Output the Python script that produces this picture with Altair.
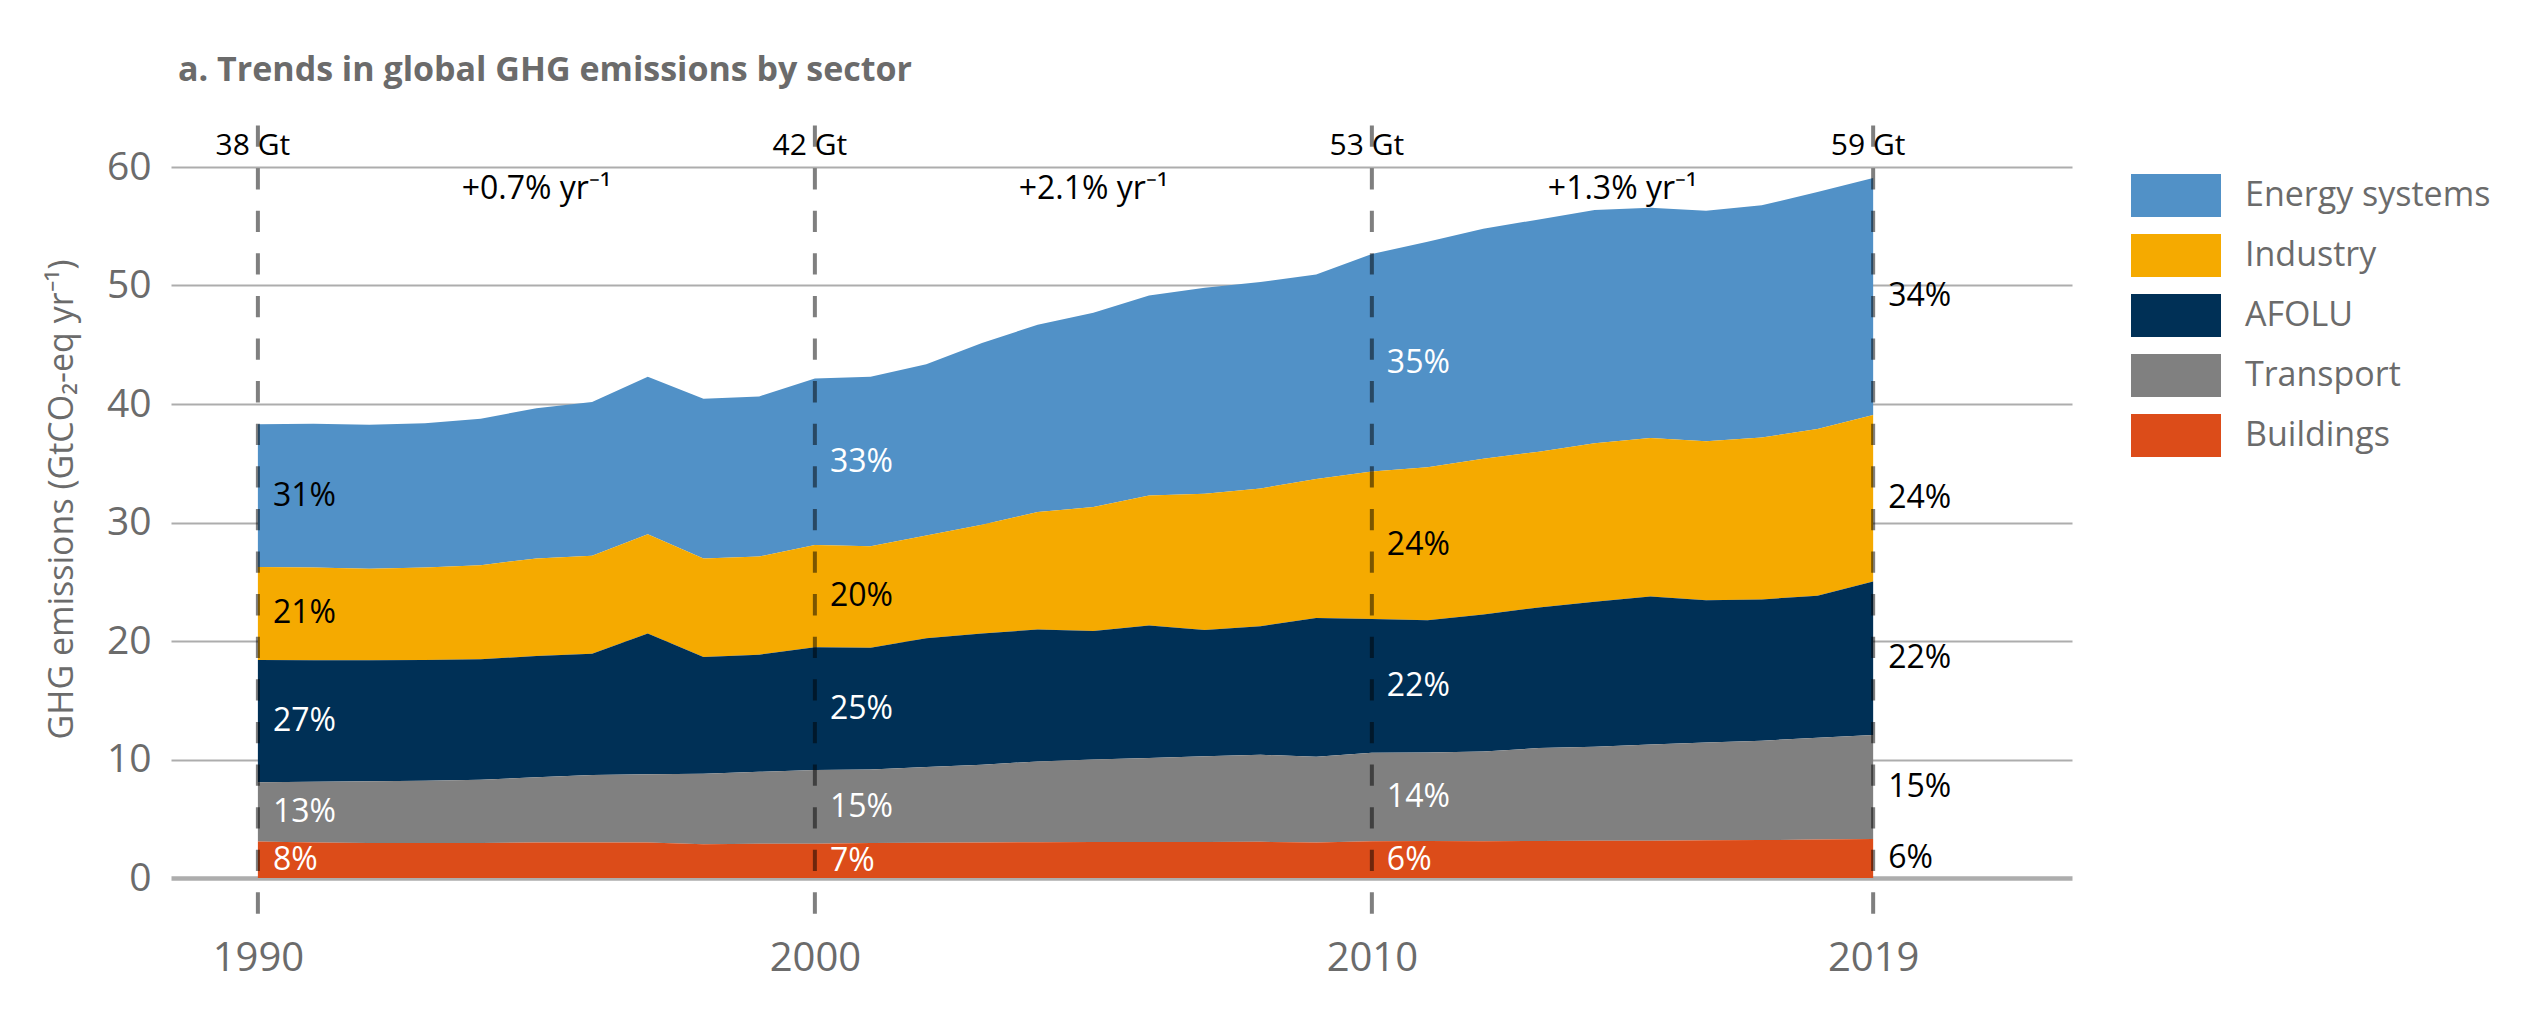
import altair as alt
import pandas as pd

FONT = "Open Sans"

years = list(range(1990, 2020))
sectors = ["Energy systems", "Industry", "AFOLU", "Transport", "Buildings"]
colors = ["#5191C7", "#F5AA00", "#003056", "#808080", "#DC4C19"]

buildings = [3.07, 2.99, 2.95, 2.95, 2.95, 2.99, 3.00, 3.00, 2.85, 2.90,
             2.90, 2.95, 2.97, 3.00, 3.02, 3.03, 3.03, 3.03, 3.05, 3.00,
             3.10, 3.12, 3.10, 3.12, 3.15, 3.15, 3.18, 3.20, 3.25, 3.30]
transport = [5.02, 5.14, 5.22, 5.25, 5.34, 5.51, 5.70, 5.76, 5.95, 6.06,
             6.22, 6.21, 6.39, 6.56, 6.82, 6.97, 7.09, 7.25, 7.35, 7.24,
             7.46, 7.48, 7.58, 7.84, 7.93, 8.12, 8.25, 8.39, 8.58, 8.77]
afolu = [10.31, 10.24, 10.20, 10.20, 10.16, 10.23, 10.22, 11.88, 9.85, 9.88,
         10.36, 10.28, 10.88, 11.08, 11.12, 10.84, 11.19, 10.64, 10.84, 11.71,
         11.30, 11.15, 11.55, 11.87, 12.23, 12.48, 12.00, 11.92, 11.99, 12.95]
industry = [7.85, 7.83, 7.73, 7.80, 7.95, 8.24, 8.28, 8.36, 8.32, 8.29,
            8.62, 8.56, 8.66, 9.16, 9.92, 10.46, 10.96, 11.51, 11.63, 11.72,
            12.44, 12.91, 13.15, 13.15, 13.38, 13.38, 13.42, 13.66, 14.07, 14.06]
energy = [12.04, 12.13, 12.15, 12.17, 12.36, 12.67, 12.96, 13.31, 13.47, 13.51,
          14.05, 14.31, 14.45, 15.34, 15.81, 16.39, 16.89, 17.37, 17.43, 17.25,
          18.35, 19.04, 19.40, 19.60, 19.68, 19.44, 19.45, 19.60, 20.00, 20.00]

label_years = [1990, 2000, 2010, 2019]
pct_energy = ["31%", "33%", "35%", "34%"]
pct_industry = ["21%", "20%", "24%", "24%"]
pct_afolu = ["27%", "25%", "22%", "22%"]
pct_transport = ["13%", "15%", "14%", "15%"]
pct_buildings = ["8%", "7%", "6%", "6%"]

total_labels = ["38 Gt", "42 Gt", "53 Gt", "59 Gt"]
growth_labels = ["+0.7% yr\u207b\u00b9", "+2.1% yr\u207b\u00b9", "+1.3% yr\u207b\u00b9"]

# ---- build tables ----
series = {
    "Energy systems": energy,
    "Industry": industry,
    "AFOLU": afolu,
    "Transport": transport,
    "Buildings": buildings,
}
rank = {"Buildings": 0, "Transport": 1, "AFOLU": 2, "Industry": 3, "Energy systems": 4}
rows = []
for s, vals in series.items():
    for y, v in zip(years, vals):
        rows.append({"year": y, "sector": s, "value": v, "rank": rank[s]})
df = pd.DataFrame(rows)

pcts = {
    "Energy systems": pct_energy,
    "Industry": pct_industry,
    "AFOLU": pct_afolu,
    "Transport": pct_transport,
    "Buildings": pct_buildings,
}
prow = []
for s, labs in pcts.items():
    for y, t in zip(label_years, labs):
        prow.append({"year": y, "sector": s, "pct": t})
lab_df = df.merge(pd.DataFrame(prow), on=["year", "sector"])

tot_df = pd.DataFrame({"year": label_years, "label": total_labels})
growth_df = pd.DataFrame({
    "year": [(a + b) / 2 for a, b in zip(label_years[:-1], label_years[1:])],
    "label": growth_labels,
})

xscale = alt.Scale(domain=[1988.44, 2022.57], nice=False, zero=False)
yscale = alt.Scale(domain=[0, 60], nice=False)

area = alt.Chart(df).mark_area(interpolate="linear").encode(
    x=alt.X("year:Q", scale=xscale, title=None,
            axis=alt.Axis(values=label_years, format="d", grid=False, domain=False,
                          ticks=False, tickSize=0, labelPadding=60, labelFontSize=40,
                          labelColor="#6b6b6b", labelFont=FONT)),
    y=alt.Y("value:Q", stack="zero", scale=yscale,
            title="GHG emissions (GtCO\u2082-eq yr\u207b\u00b9)",
            axis=alt.Axis(values=[0, 10, 20, 30, 40, 50, 60], grid=True,
                          gridColor="#ADADAD",
                          gridWidth={"condition": {"test": "datum.value === 0", "value": 4.5}, "value": 2},
                          domain=False, ticks=False, tickSize=0, labelPadding=20,
                          labelFontSize=39, labelColor="#6b6b6b", labelFont=FONT,
                          titleFontSize=34, titleColor="#6b6b6b", titleFont=FONT,
                          titleFontWeight="normal", titleX=-109, titleY=332,
                          titleAlign="center", titleBaseline="middle", titleAngle=270)),
    color=alt.Color("sector:N", scale=alt.Scale(domain=sectors, range=colors),
                    legend=alt.Legend(title=None, orient="none", legendX=1960, legendY=-1.5,
                                      symbolType="M-1,-0.478H1V0.478H-1Z", symbolSize=8100,
                                      symbolStrokeWidth=0, symbolOpacity=1,
                                      labelFontSize=34, labelColor="#6b6b6b", labelFont=FONT,
                                      labelOffset=24, labelLimit=500, rowPadding=0,
                                      clipHeight=60, padding=0)),
    order=alt.Order("rank:Q", sort="ascending"),
)

dark_test = "datum.year === 2019 || datum.sector === 'Industry' || (datum.sector === 'Energy systems' && datum.year === 1990)"

lab_base = alt.Chart(lab_df).transform_stack(
    stack="value", groupby=["year"], as_=["y0", "y1"],
    sort=[alt.SortField("rank", "ascending")],
).transform_calculate(mid="(datum.y0 + datum.y1) / 2")

lab_dark = lab_base.transform_filter(dark_test).mark_text(
    align="left", baseline="middle", dx=15, fontSize=32, font=FONT, color="#000000"
).encode(x=alt.X("year:Q", scale=xscale), y=alt.Y("mid:Q", scale=yscale), text="pct:N")

lab_light = lab_base.transform_filter("!(" + dark_test + ")").mark_text(
    align="left", baseline="middle", dx=15, fontSize=32, font=FONT, color="#FFFFFF"
).encode(x=alt.X("year:Q", scale=xscale), y=alt.Y("mid:Q", scale=yscale), text="pct:N")

rules = alt.Chart(tot_df).mark_rule(
    color="#000000", opacity=0.5, strokeWidth=4, strokeDash=[21.3, 21.3]
).encode(x=alt.X("year:Q", scale=xscale), y=alt.datum(63.5), y2=alt.datum(-3.1))

totals = alt.Chart(tot_df).mark_text(
    align="center", baseline="alphabetic", dx=-5, fontSize=30, font=FONT, color="#000000"
).encode(x=alt.X("year:Q", scale=xscale), y=alt.datum(61.0), text="label:N")

growth = alt.Chart(growth_df).mark_text(
    align="center", baseline="alphabetic", fontSize=32, font=FONT, color="#000000"
).encode(x=alt.X("year:Q", scale=xscale), y=alt.datum(57.3), text="label:N")

chart = alt.layer(area, rules, lab_dark, lab_light, totals, growth).properties(
    width=1901,
    height=711,
    autosize=alt.AutoSizeParams(type="none"),
    padding={"left": 163, "top": 159, "right": 440, "bottom": 140},
    title=alt.TitleParams("a. Trends in global GHG emissions by sector", anchor="start",
                          fontSize=34, fontWeight="bold", color="#6b6b6b", font=FONT,
                          offset=9, dx=7, baseline="alphabetic", frame="group"),
).configure_view(stroke=None)

chart.save("out.html", embed_options={"renderer": "svg", "actions": False})
